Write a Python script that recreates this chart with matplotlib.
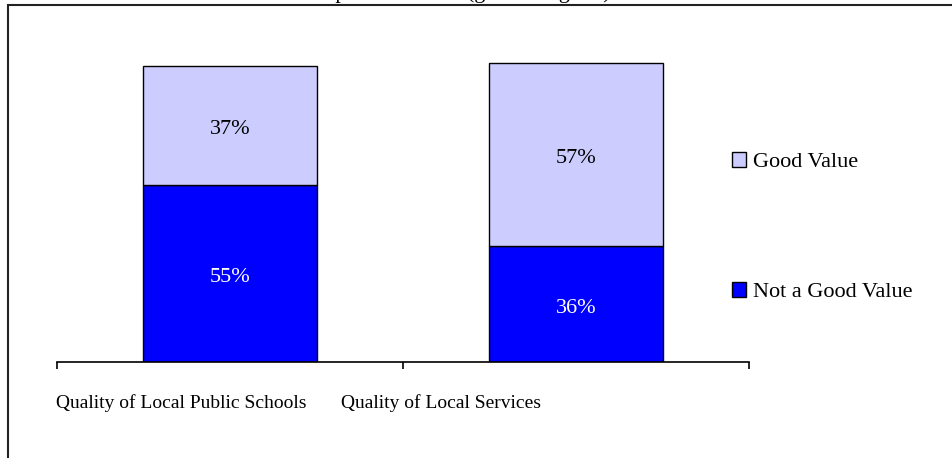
import matplotlib
matplotlib.use("Agg")
import matplotlib.pyplot as plt
from matplotlib.patches import Rectangle, Patch
import matplotlib.transforms as mtransforms

plt.rcParams['font.family'] = ['Liberation Serif', 'DejaVu Serif']

categories = ["Quality of Local Public Schools", "Quality of Local Services"]
not_good = [55, 36]
good = [37, 57]
title = "Perception of Value (good/not good)"

W, H = 953, 458
fig = plt.figure(figsize=(W / 100, H / 100), dpi=100)

# axes box: x from 57 to 749 px, baseline at y=362 px
ax = fig.add_axes([57 / W, (H - 362) / H, 692 / W, 322 / H])

x = range(len(categories))
b1 = ax.bar(x, not_good, width=0.505, color="#0000FF", edgecolor="black", linewidth=1.0)
b2 = ax.bar(x, good, width=0.505, bottom=not_good, color="#CCCCFF", edgecolor="black", linewidth=1.0)

# value labels, nudged a few pixels down
lab_tr = mtransforms.offset_copy(ax.transData, fig=fig, x=0, y=-4, units="dots")
for i in x:
    ax.text(i, not_good[i] / 2, f"{not_good[i]}%", ha="center", va="center",
            color="white", fontsize=16, transform=lab_tr)
    ax.text(i, not_good[i] + good[i] / 2, f"{good[i]}%", ha="center", va="center",
            color="black", fontsize=16, transform=lab_tr)

ax.set_xlim(-0.5, 1.5)
ax.set_ylim(0, 100)
for s in ["top", "right", "left"]:
    ax.spines[s].set_visible(False)
ax.spines["bottom"].set_linewidth(1.2)
ax.set_yticks([])
ax.set_xticks([-0.5, 0.5, 1.5])
ax.set_xticklabels([])
ax.tick_params(axis="x", which="major", direction="out", length=5, width=1.2)

# category labels sit a bit left of the bar centres, as in the original
trans = mtransforms.blended_transform_factory(ax.transData, ax.transAxes)
label_shift = [-0.14, -0.39]
for i in x:
    ax.text(i + label_shift[i], -41 / 322, categories[i], transform=trans,
            ha="center", va="center", fontsize=14)

# legend
handles = [Patch(facecolor="#CCCCFF", edgecolor="black", label="Good Value"),
           Patch(facecolor="#0000FF", edgecolor="black", label="Not a Good Value")]
fig.legend(handles=handles, loc="upper left", bbox_to_anchor=(723 / W, (H - 143) / H),
           frameon=False, fontsize=16, labelspacing=4.95, handlelength=0.65,
           handleheight=0.65, handletextpad=0.3, borderaxespad=0)

# outer frame (only top and left visible)
fig.patches.append(Rectangle((8 / W, -0.1), 1.2, (H - 5) / H + 0.1,
                             transform=fig.transFigure, fill=False,
                             edgecolor="#222222", linewidth=1.5))

# title, mostly cut off at the top
fig.text(0.47, 1 + 2 / H, title, ha="center", va="baseline", fontsize=16)

fig.savefig("out.png", dpi=100)
